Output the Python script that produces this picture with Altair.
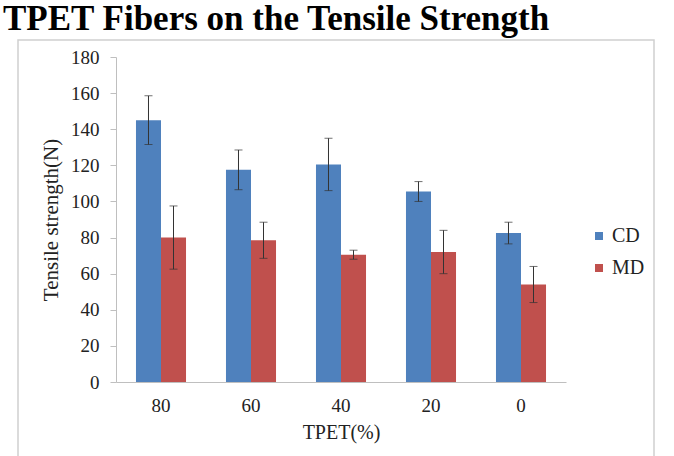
import altair as alt
import pandas as pd

title_text = "TPET Fibers on the Tensile Strength"
categories = ["80", "60", "40", "20", "0"]
series = ["CD", "MD"]
cd_values = [145, 117.5, 120.5, 105.5, 82.5]
cd_errors = [13.5, 11, 14.5, 5.5, 6]
md_values = [80, 78.5, 70.5, 72, 54]
md_errors = [17.5, 10, 2.5, 12, 10]
y_ticks = list(range(0, 181, 20))

rows = []
for c, v, e in zip(categories, cd_values, cd_errors):
    rows.append({"tpet": c, "dir": "CD", "val": v, "lo": v - e, "hi": v + e})
for c, v, e in zip(categories, md_values, md_errors):
    rows.append({"tpet": c, "dir": "MD", "val": v, "lo": v - e, "hi": v + e})
df = pd.DataFrame(rows)

FONT = "Liberation Serif"
TXT = "#222222"

x_axis = alt.Axis(labelAngle=0, ticks=False, domainColor="#bfbfbf",
                  labelFont=FONT, labelFontSize=19, labelColor=TXT,
                  labelPadding=14, titleFont=FONT, titleFontSize=20,
                  titleFontWeight="normal", titleColor=TXT, titlePadding=7)
y_axis = alt.Axis(values=y_ticks, grid=False, domainColor="#bfbfbf",
                  tickColor="#bfbfbf", tickSize=6, labelFont=FONT,
                  labelFontSize=19, labelColor=TXT, labelPadding=11,
                  labelOverlap=False,
                  titleFont=FONT, titleFontSize=21, titleFontWeight="normal",
                  titleColor=TXT, titlePadding=9)
x_scale = alt.Scale(paddingInner=0.444, paddingOuter=0.222)
y_scale = alt.Scale(domain=[0, 180], nice=False)
xo_enc = alt.XOffset("dir:N", sort=series, scale=alt.Scale(paddingInner=0, paddingOuter=0))

def xe():
    return alt.X("tpet:N", sort=categories, title="TPET(%)", scale=x_scale, axis=x_axis)

def ye(field):
    return alt.Y(field, scale=y_scale, title="Tensile strength(N)", axis=y_axis)

color = alt.Color("dir:N", sort=series, title=None,
                  scale=alt.Scale(domain=series, range=["#4F81BD", "#C0504D"]),
                  legend=alt.Legend(orient="none", legendX=473, legendY=169,
                                    symbolType="square", symbolSize=64,
                                    symbolStrokeWidth=0, labelFont=FONT,
                                    labelFontSize=20, labelColor=TXT,
                                    labelOffset=3, rowPadding=12, padding=0))

bars = alt.Chart(df).mark_bar().encode(
    x=xe(), xOffset=xo_enc, y=ye("val:Q"), color=color,
)

err = alt.Chart(df).mark_rule(color="#333333", strokeWidth=1).encode(
    x=xe(), xOffset=xo_enc, y=ye("lo:Q"), y2="hi:Q",
)
cap_hi = alt.Chart(df).mark_tick(color="#333333", thickness=1, size=8, orient="horizontal").encode(
    x=xe(), xOffset=xo_enc, y=ye("hi:Q"),
)
cap_lo = alt.Chart(df).mark_tick(color="#333333", thickness=1, size=8, orient="horizontal").encode(
    x=xe(), xOffset=xo_enc, y=ye("lo:Q"),
)

frame = alt.Chart(pd.DataFrame({"k": [0]})).mark_rect(
    fill="transparent", stroke="#d0d0d0", strokeWidth=1.5
).encode(
    x=alt.value(-98), x2=alt.value(538), y=alt.value(-17), y2=alt.value(420)
)

title = alt.Chart(pd.DataFrame({"t": [title_text]})).mark_text(
    align="left", baseline="alphabetic", font=FONT, fontSize=35,
    fontWeight="bold", color="#000000"
).encode(text="t:N", x=alt.value(-113), y=alt.value(-27))

chart = alt.layer(frame, bars, err, cap_hi, cap_lo, title).properties(
    width=450, height=325,
    background="white",
    autosize=alt.AutoSizeParams(type="none"),
    padding={"left": 116, "top": 57, "right": 108, "bottom": 74},
).configure_view(strokeWidth=0, stroke="transparent")

chart.save("out.html", embed_options={"renderer": "svg", "actions": False})
